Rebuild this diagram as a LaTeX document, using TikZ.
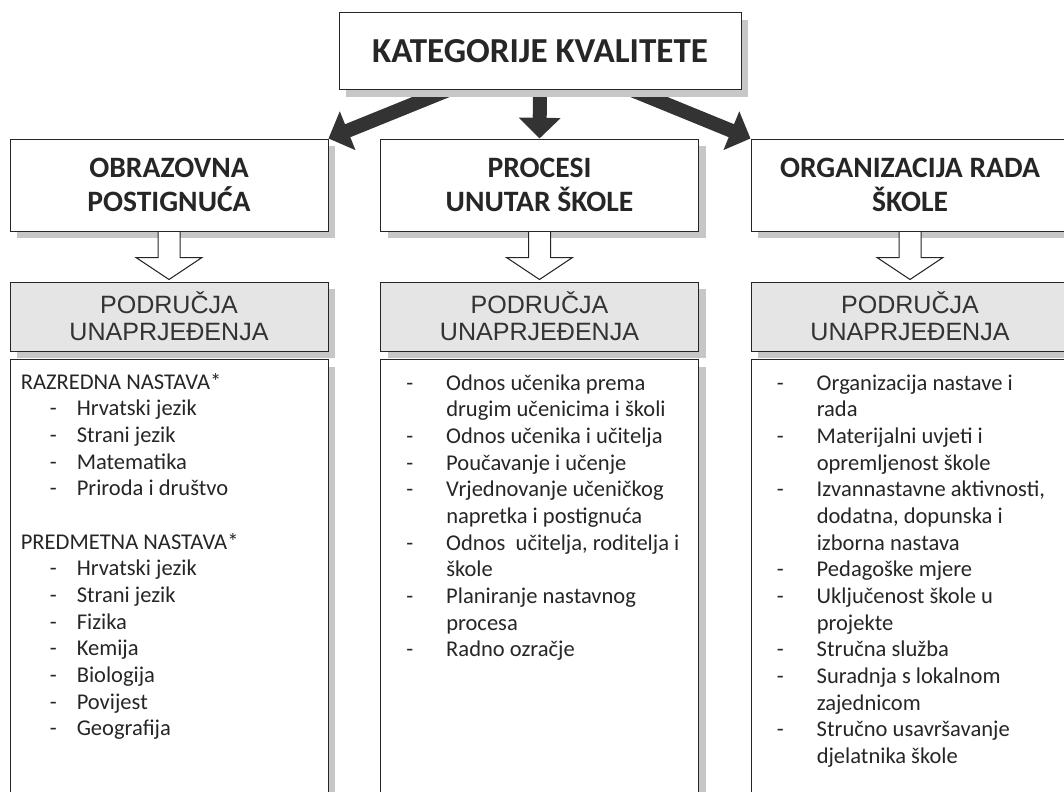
\documentclass[tikz,border=0pt]{standalone}
\usepackage{fontspec}
\setmainfont{Carlito}
\newfontfamily\arialfont{Liberation Sans}
\usetikzlibrary{calc,shadows,arrows.meta}
\pgfdeclarelayer{background}
\pgfsetlayers{background,main}

\tikzset{
  box/.style={draw=black!85, line width=0.75pt, fill=white, inner sep=0pt,
    drop shadow={shadow xshift=5.25pt, shadow yshift=-5.25pt, fill=black!22, opacity=1}},
  headbox/.style={box, minimum width=301.5pt, minimum height=57.75pt,
    font=\bfseries\fontsize{26.3}{30}\selectfont, text=black!85},
  catbox/.style={box, minimum width=238.5pt, minimum height=69pt, align=center,
    font=\bfseries\fontsize{22.2}{25}\selectfont, text=black!85},
  areabox/.style={box, fill=black!10, minimum width=238.5pt, minimum height=51.75pt,
    align=center, font=\arialfont\fontsize{18.8}{20.25}\selectfont, text=black!80},
  listbox/.style={box, minimum width=238.5pt, minimum height=337.5pt, anchor=north},
  listtext/.style={anchor=north west, inner sep=0pt, text=black!85,
    font=\fontsize{16.9}{20}\selectfont},
  bigarrow/.style={draw=black!80, line width=10.5pt,
    -{Triangle[width=30.5pt, length=15.5pt, fill=black!80]}},
  hollow/.style={draw=black!85, line width=0.75pt, fill=white}
}

\begin{document}
\begin{tikzpicture}[x=0.75pt,y=-0.75pt]
    \useasboundingbox (0,0) rectangle (1064,792);
    \begin{pgfonlayer}{background}
      \fill [white] (0,0) rectangle (1064,792);
    \end{pgfonlayer}

    % top
    \node [headbox] (kat) at (540,51.5) {KATEGORIJE KVALITETE};

    % categories
    \node [catbox] (obr) at (169,185) {OBRAZOVNA\\POSTIGNUĆA};
    \node [catbox] (pro) at (539.5,185) {PROCESI\\UNUTAR ŠKOLE};
    \node [catbox] (org) at (910,185) {ORGANIZACIJA RADA\\ŠKOLE};

    % areas
    \node [areabox] (obrpod) at (169,316.5) {PODRUČJA\\UNAPRJEĐENJA};
    \node [areabox] (propod) at (539.5,316.5) {PODRUČJA\\UNAPRJEĐENJA};
    \node [areabox] (orgpod) at (910,316.5) {PODRUČJA\\UNAPRJEĐENJA};

    % lists
    \node [listbox] (obrlist) at (169,359) {};
    \node [listbox] (prolist) at (539.5,359) {};
    \node [listbox] (orglist) at (910,359) {};

    \node [listtext] (obrtxt) at ($(obrlist.north west)+(11,11.3)$) {%
      \begin{tabular}{@{\hspace{21.75pt}}p{20.25pt}@{}l@{}}
        \multicolumn{2}{@{}l@{}}{RAZREDNA NASTAVA*}\\
        - & Hrvatski jezik\\
        - & Strani jezik\\
        - & Matematika\\
        - & Priroda i društvo\\
          & \\
        \multicolumn{2}{@{}l@{}}{PREDMETNA NASTAVA*}\\
        - & Hrvatski jezik\\
        - & Strani jezik\\
        - & Fizika\\
        - & Kemija\\
        - & Biologija\\
        - & Povijest\\
        - & Geografija
      \end{tabular}};

    \node [listtext] (protxt) at ($(prolist.north west)+(26,12.3)$) {%
      \begin{tabular}{@{}p{30pt}@{}l@{}}
        - & Odnos učenika prema\\
          & drugim učenicima i školi\\
        - & Odnos učenika i učitelja\\
        - & Poučavanje i učenje\\
        - & Vrjednovanje učeničkog\\
          & napretka i postignuća\\
        - & Odnos\ \ učitelja, roditelja i\\
          & škole\\
        - & Planiranje nastavnog\\
          & procesa\\
        - & Radno ozračje
      \end{tabular}};

    \node [listtext] (orgtxt) at ($(orglist.north west)+(26,12.3)$) {%
      \begin{tabular}{@{}p{30pt}@{}l@{}}
        - & Organizacija nastave i\\
          & rada\\
        - & Materijalni uvjeti i\\
          & opremljenost škole\\
        - & Izvannastavne aktivnosti,\\
          & dodatna, dopunska i\\
          & izborna nastava\\
        - & Pedagoške mjere\\
        - & Uključenost škole u\\
          & projekte\\
        - & Stručna služba\\
        - & Suradnja s lokalnom\\
          & zajednicom\\
        - & Stručno usavršavanje\\
          & djelatnika škole
      \end{tabular}};

    % thick arrows under the shadows
    \begin{pgfonlayer}{background}
      \draw [bigarrow] ($(kat.south)+(-93,0)$) -- (obr.north east);
      \draw [bigarrow] (kat.south) -- (pro.north);
      \draw [bigarrow] ($(kat.south)+(93,0)$) -- (org.north west);
    \end{pgfonlayer}

    % open arrows
    \draw [hollow] ($(obr.south)+(-11,0.5)$) -- ($(obrpod.north)+(-11,-24)$) -- ($(obrpod.north)+(-33,-24)$) -- ($(obrpod.north)+(0,-2)$) -- ($(obrpod.north)+(33,-24)$) -- ($(obrpod.north)+(11,-24)$) -- ($(obr.south)+(11,0.5)$);
    \draw [hollow] ($(pro.south)+(-11,0.5)$) -- ($(propod.north)+(-11,-24)$) -- ($(propod.north)+(-33,-24)$) -- ($(propod.north)+(0,-2)$) -- ($(propod.north)+(33,-24)$) -- ($(propod.north)+(11,-24)$) -- ($(pro.south)+(11,0.5)$);
    \draw [hollow] ($(org.south)+(-11,0.5)$) -- ($(orgpod.north)+(-11,-24)$) -- ($(orgpod.north)+(-33,-24)$) -- ($(orgpod.north)+(0,-2)$) -- ($(orgpod.north)+(33,-24)$) -- ($(orgpod.north)+(11,-24)$) -- ($(org.south)+(11,0.5)$);
\end{tikzpicture}
\end{document}
